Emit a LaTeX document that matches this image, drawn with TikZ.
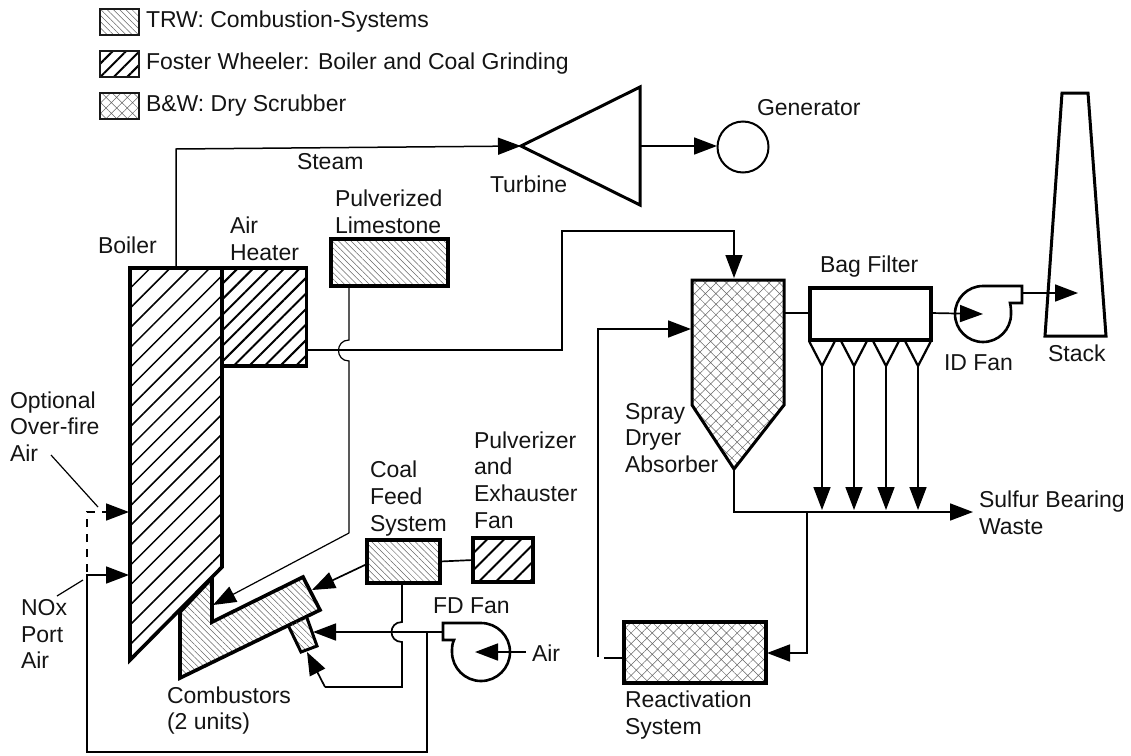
\documentclass[tikz,border=0pt]{standalone}
\usepackage{fontspec}
\setmainfont{Liberation Sans}
\usetikzlibrary{arrows.meta,patterns.meta}
\tikzset{
  x=1pt,y=-1pt,
  lbl/.style={inner sep=0pt,outer sep=0pt,anchor=west,align=left,font=\fontsize{23}{26.6}\selectfont,text=black!92},
  thin line/.style={line width=1.7pt,black},
  mid line/.style={line width=1.5pt,black},
  hair/.style={line width=1.2pt,black},
  arr/.style={thin line,-{Triangle[length=23pt,width=17pt]}},
  boxn/.style={draw=black,line width=3.6pt,inner sep=0pt,outer sep=0pt},
  legendbox/.style={draw=black!90,line width=1.5pt,inner sep=0pt,outer sep=0pt,minimum width=39pt,minimum height=26pt},
  heavy/.style={draw=black,line width=3.6pt,line join=miter},
  trw/.style={pattern={Lines[angle=-45,distance=4.4pt,line width=0.5pt]},pattern color=black!60},
  fw/.style={pattern={Lines[angle=45,distance=#1,line width=1.5pt]},pattern color=black},
  fwb/.style={pattern={Lines[angle=45,distance=#1,line width=2pt]},pattern color=black},
  bw/.style={pattern={Hatch[angle=45,distance=7.5pt,line width=0.5pt]},pattern color=black!60},
}
\begin{document}
\begin{tikzpicture}
\useasboundingbox (0,0) rectangle (1131,755);
% legend
\node[legendbox,trw] (lga) at (119.5,22) {};
\node[legendbox,fwb=9.5pt] (lgb) at (119.5,64) {};
\node[legendbox,bw] (lgc) at (119.5,106) {};
\node[lbl] (lta) at (146,22) {TRW: Combustion-Systems};
\node[lbl] (ltb) at (146,64) {Foster Wheeler: Boiler and Coal Grinding};
\node[lbl] (ltc) at (146,106) {B\&W: Dry Scrubber};
% named points
\coordinate (bt) at (176,268);
\coordinate (s1) at (176,149);
\coordinate (turbtip) at (521,146);
\coordinate (turbmid) at (640,146);
\coordinate (hx) at (307,350);
\coordinate (h1) at (338,350);
\coordinate (h2) at (562,350);
\coordinate (h3) at (562,231);
\coordinate (h4) at (734,231);
\coordinate (dtop) at (734,278);
\coordinate (dleft) at (691,329);
\coordinate (r1) at (598,657);
\coordinate (r2) at (598,329);
\coordinate (rl) at (604,658);
\coordinate (dtip) at (734,469);
\coordinate (w1) at (734,512);
\coordinate (w2) at (973,512);
\coordinate (w3) at (807,512);
\coordinate (w4) at (807,653);
\coordinate (dr) at (784,313);
\coordinate (fr) at (931,313);
\coordinate (idc) at (983,314);
\coordinate (ido) at (1022,293);
\coordinate (stk) at (1078,293);
\coordinate (ls1) at (349,340);
\coordinate (ls2) at (349,361);
\coordinate (ls3) at (349,533);
\coordinate (ls4) at (213,605);
\coordinate (cf1) at (402,622);
\coordinate (cf2) at (402,642);
\coordinate (cf3) at (402,687);
\coordinate (cf4) at (325,687);
\coordinate (cf5) at (307,652);
\coordinate (cfl) at (367,564);
\coordinate (cft) at (312,590);
\coordinate (fdo) at (443,632);
\coordinate (fdt) at (313,632);
\coordinate (fd1) at (427,632);
\coordinate (fd2) at (427,752);
\coordinate (fd3) at (87,752);
\coordinate (fd4) at (87,575);
\coordinate (nox) at (129,575);
\coordinate (ofa1) at (87,512);
\coordinate (ofa2) at (97,512);
\coordinate (ofa3) at (102,512);
\coordinate (ofa) at (129,512);
\coordinate (air1) at (526,652);
\coordinate (air2) at (475,652);
\coordinate (gl1) at (51,455);
\coordinate (gl2) at (98,507);
\coordinate (gl3) at (57,596);
\coordinate (gl4) at (83,580);
% connectors
\draw[arr,mid line] (bt) -- (s1) -- (turbtip);
\draw[mid line] (hx) -- (h1) -- (h2) -- (h3) -- (h4) -- ++(0,5);
\draw[arr,mid line] (h4) -- (dtop);
\draw[hair] (349,286) -- (ls1) .. controls (335,340) and (335,361) .. (ls2) -- (ls3);
\draw[arr,hair] (ls3) -- (ls4);
\draw[arr] (cfl) -- (cft);
\draw[thin line] (402,583) -- (cf1) .. controls (388,622) and (388,642) .. (cf2) -- (cf3) -- (cf4);
\draw[arr] (cf4) -- (cf5);
\draw[arr] (fdo) -- (fdt);
\draw[arr] (fd1) -- (fd2) -- (fd3) -- (fd4) -- (nox);
\draw[thin line,dash pattern=on 8pt off 7pt] (87,572) -- (ofa1) -- (ofa2);
\draw[arr] (ofa3) -- (ofa);
\draw[arr] (air1) -- (air2);
\draw[hair] (gl1) -- (gl2);
\draw[hair] (gl3) -- (gl4);
\draw[arr] (turbmid) -- (717,146);
\draw[thin line] (dtip) -- (w1) -- (w3);
\draw[arr] (w3) -- (w2);
\draw[arr] (w3) -- (w4) -- (767,653);
\draw[thin line] (rl) -- (624,658);
\draw[arr] (r1) -- (r2) -- (dleft);
\draw[thin line] (dr) -- (810,313);
\draw[arr] (fr) -- (983,314);
\draw[arr] (ido) -- (stk);
\foreach \hx in {822,854,886,918} \draw[arr] (\hx,366) -- (\hx,510);
% combustors
\draw[heavy,trw] (180,678) -- (180,612) -- (212,578) -- (212,622) -- (303,577) -- (320,610) -- cycle;
\draw[line width=3pt,draw=black,trw,line join=miter] (288,625) -- (301,652) -- (317,646) -- (307,618);
% boiler
\draw[heavy,fw=14pt] (130,268) -- (222,268) -- (222,567) -- (130,660) -- cycle;
\node[boxn,fwb=11pt,minimum width=84pt,minimum height=98pt] (heater) at (264.5,317) {};
\node[boxn,trw,minimum width=117pt,minimum height=47pt] (lime) at (389.5,262.5) {};
\node[boxn,trw,minimum width=73pt,minimum height=43pt] (coal) at (403.5,561.5) {};
\node[boxn,fwb=12pt,minimum width=60pt,minimum height=44pt] (pulv) at (503,560) {};
\draw[thin line] (coal.east) -- (pulv.west);
% FD fan
\draw[line width=2.6pt] (443,623) -- (481,623) .. controls (497,623) and (510,636) .. (510,652) .. controls (510,668) and (497,681) .. (481,681) .. controls (465,681) and (452,668) .. (452,652) .. controls (452,648) and (452,644) .. (454,640) -- (443,640) -- cycle;
% turbine, generator
\draw[line width=3pt,line join=miter] (turbtip) -- (640,87) -- (640,205) -- cycle;
\node[draw=black,line width=2pt,circle,minimum size=51pt,inner sep=0pt,outer sep=0pt] (gen) at (743,147) {};
% dryer
\draw[heavy,line width=3pt,bw] (692,280) -- (784,280) -- (784,405) -- (dtip) -- (692,405) -- cycle;
% bag filter
\node[boxn,minimum width=121pt,minimum height=52pt] (bag) at (870.5,314) {};
\foreach \hx in {822,854,886,918} \draw[line width=2.2pt,line join=miter] (\hx-13,341) -- (\hx,366) -- (\hx+13,341);
% ID fan
\draw[line width=2.6pt] (1022,286) -- (983,286) .. controls (967.5,286) and (955,298.5) .. (955,314) .. controls (955,329.5) and (967.5,342) .. (983,342) .. controls (998.5,342) and (1011,329.5) .. (1011,314) .. controls (1011,310) and (1011,307) .. (1010,303) -- (1022,303) -- cycle;
% stack
\draw[line width=3pt,line join=miter] (1062,93) -- (1088,93) -- (1106,336) -- (1045,336) -- cycle;
% reactivation
\node[boxn,bw,minimum width=142pt,minimum height=61pt] (react) at (695,652.5) {};
% labels
\node[lbl] (tsteam) at (297,162) {Steam};
\node[lbl] (tturb) at (490,184) {Turbine};
\node[lbl] (tgen) at (757,108) {Generator};
\node[lbl] (tboil) at (98,245) {Boiler};
\node[lbl] (theat) at (230,238.5) {Air\\Heater};
\node[lbl] (tlime) at (335,212) {Pulverized\\Limestone};
\node[lbl] (tbag) at (820,267) {Bag Filter};
\node[lbl] (tid) at (944,363) {ID Fan};
\node[lbl] (tstack) at (1048,353) {Stack};
\node[lbl] (tspray) at (625,438) {Spray\\Dryer\\Absorber};
\node[lbl] (tsulf) at (979,513) {Sulfur Bearing\\Waste};
\node[lbl] (treact) at (625,715) {Reactivation\\System};
\node[lbl] (tcomb) at (167,710.5) {Combustors\\(2 units)};
\node[lbl] (tfd) at (433,606) {FD Fan};
\node[lbl] (tair) at (532,653) {Air};
\node[lbl] (tcoal) at (370,498.5) {Coal\\Feed\\System};
\node[lbl] (tpulv) at (474,480) {Pulverizer\\and\\Exhauster\\Fan};
\node[lbl] (topt) at (10,426.5) {Optional\\Over-fire\\Air};
\node[lbl] (tnox) at (21,634) {NOx\\Port\\Air};
\end{tikzpicture}
\end{document}
